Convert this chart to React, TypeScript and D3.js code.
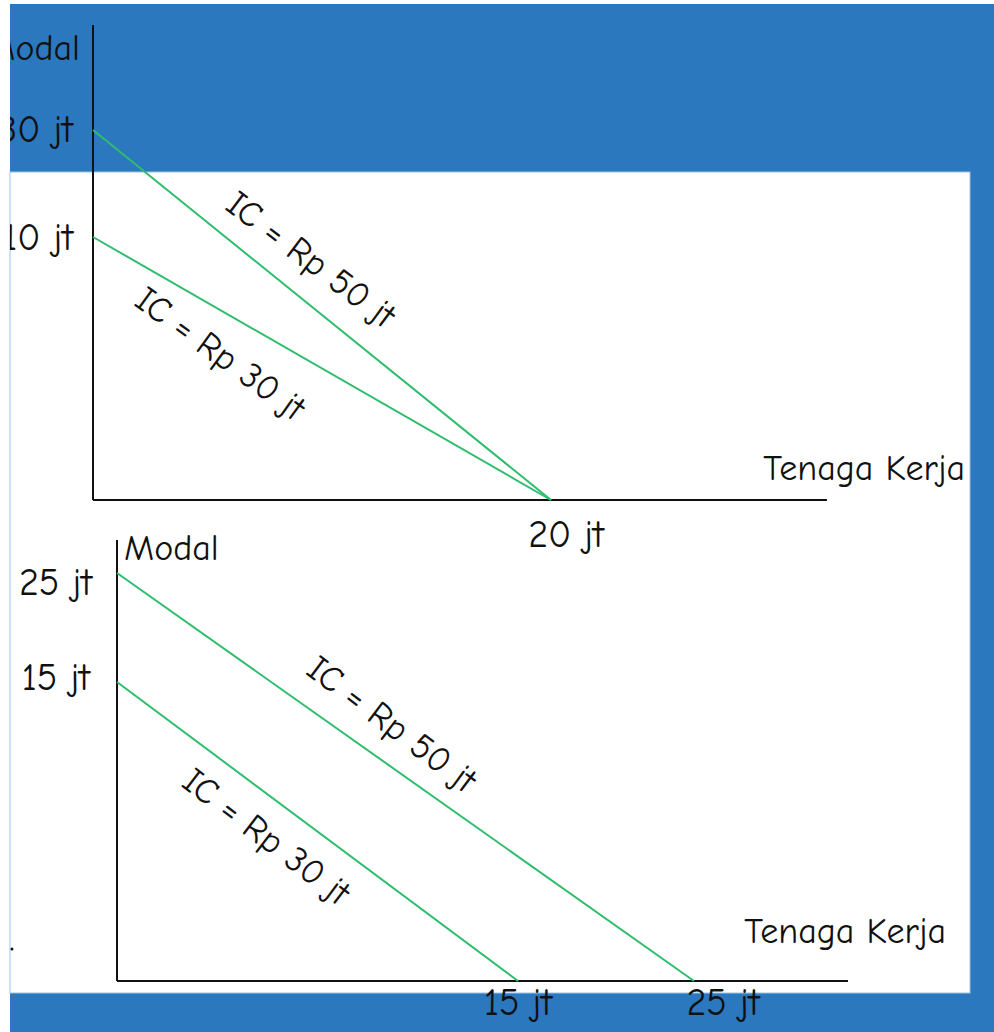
import React from 'react';
import * as d3 from 'd3';

// isocost lines, values in "jt" (juta rupiah)
const curveNames = ['IC = Rp 50 jt', 'IC = Rp 30 jt'];

// chart 1: both lines meet the labour axis at 20 jt
const topModal = [30, 10];
const topTenaga = [20, 20];
const topYTicks = ['30 jt', '10 jt'];
const topXTicks = ['20 jt'];

// chart 2: parallel lines
const bottomModal = [25, 15];
const bottomTenaga = [25, 15];
const bottomYTicks = ['25 jt', '15 jt'];
const bottomXTicks = ['15 jt', '25 jt'];

const FONT = '"Comic Sans MS", "Comic Neue", "DejaVu Sans", sans-serif';
const BLUE = '#2b78be';
const GREEN = '#2fbd6d';
const INK = '#111';

const parse = (s: string) => +s.replace(' jt', '');

type Layout = {
  x: d3.ScaleLinear<number, number>;
  y: d3.ScaleLinear<number, number>;
  modalLabel: { x: number; y: number; anchor: string };
  tenagaLabel: { x: number; y: number };
  yTickEnd: number[];
  yTickDy: number[];
  xTickDx: number[];
  xTickDy: number;
  labels: { t: number; off: number; rot: number }[];
};

const Chart = ({ modal, tenaga, yTicks, xTicks, lay, clip }: {
  modal: number[]; tenaga: number[]; yTicks: string[]; xTicks: string[]; lay: Layout; clip?: string;
}) => {
  const { x, y } = lay;
  const x0 = x(0), y0 = y(0);
  const xEnd = x.range()[x.range().length - 1];
  const yTop = y.range()[y.range().length - 1];
  const line = d3.line<[number, number]>().x(d => x(d[0])).y(d => y(d[1]));

  return (
    <g clipPath={clip} fontFamily={FONT} fontSize={36} fill={INK}>
      <line x1={x0} y1={yTop} x2={x0} y2={y0} stroke={INK} strokeWidth={2} />
      <line x1={x0} y1={y0} x2={xEnd} y2={y0} stroke={INK} strokeWidth={2} />
      {modal.map((m, i) => (
        <path key={'l' + i} d={line([[0, m], [tenaga[i], 0]]) || ''} stroke={GREEN} strokeWidth={2} fill="none" />
      ))}
      {modal.map((m, i) => {
        const ax = x(0), ay = y(m), bx = x(tenaga[i]), by = y(0);
        const len = Math.hypot(bx - ax, by - ay);
        const ux = (bx - ax) / len, uy = (by - ay) / len;
        const { t, off, rot } = lay.labels[i];
        const cx = ax + (bx - ax) * t + uy * off;
        const cy = ay + (by - ay) * t - ux * off;
        return (
          <text key={'c' + i} x={cx} y={cy} textAnchor="middle" dominantBaseline="central"
            transform={`rotate(${rot},${cx},${cy})`}>{curveNames[i]}</text>
        );
      })}
      {yTicks.map((s, i) => (
        <text key={'y' + i} x={lay.yTickEnd[i]} y={y(parse(s)) + lay.yTickDy[i]} textAnchor="end" fontSize={38}>{s}</text>
      ))}
      {xTicks.map((s, i) => (
        <text key={'x' + i} x={x(parse(s)) + lay.xTickDx[i]} y={y0 + lay.xTickDy} textAnchor="middle" fontSize={38}>{s}</text>
      ))}
      <text x={lay.modalLabel.x} y={lay.modalLabel.y} textAnchor={lay.modalLabel.anchor}>Modal</text>
      <text x={lay.tenagaLabel.x} y={lay.tenagaLabel.y} textAnchor="end">Tenaga Kerja</text>
    </g>
  );
};

export default function App() {
  React.useEffect(() => {
    document.body.style.margin = '0';
  }, []);

  // hand drawn sketch: axes are not evenly spaced, so piecewise scales
  const topLay: Layout = {
    x: d3.scaleLinear().domain([0, 20, 32]).range([93, 551, 827]),
    y: d3.scaleLinear().domain([0, 10, 30, 40]).range([500, 237, 130, 25]),
    modalLabel: { x: 80, y: 60, anchor: 'end' },
    tenagaLabel: { x: 965, y: 480 },
    yTickEnd: [73, 73],
    yTickDy: [12, 13],
    xTickDx: [15],
    xTickDy: 47,
    labels: [{ t: 0.426, off: 36, rot: 37 }, { t: 0.319, off: -38, rot: 36 }],
  };
  const bottomLay: Layout = {
    x: d3.scaleLinear().domain([0, 15, 25, 29]).range([117, 518, 694, 848]),
    y: d3.scaleLinear().domain([0, 15, 25, 28]).range([981, 682, 573, 540]),
    modalLabel: { x: 124, y: 560, anchor: 'start' },
    tenagaLabel: { x: 946, y: 943 },
    yTickEnd: [92, 90],
    yTickDy: [22, 8],
    xTickDx: [0, 29],
    xTickDy: 34,
    labels: [{ t: 0.441, off: 35, rot: 37 }, { t: 0.424, off: -35, rot: 37.4 }],
  };

  return (
    <svg width={994} height={1032} style={{ display: 'block' }}>
      <defs>
        <clipPath id="cut">
          <rect x={10} y={0} width={984} height={1032} />
        </clipPath>
      </defs>
      <rect width={994} height={1032} fill="#fff" />
      <rect x={10} y={4} width={984} height={1028} fill={BLUE} />
      <rect x={10} y={172} width={960} height={821} fill="#fff" stroke="#9cc3e6" strokeWidth={1} />
      <circle cx={12} cy={949} r={1.5} fill={INK} />
      <Chart modal={topModal} tenaga={topTenaga} yTicks={topYTicks} xTicks={topXTicks} lay={topLay} clip="url(#cut)" />
      <Chart modal={bottomModal} tenaga={bottomTenaga} yTicks={bottomYTicks} xTicks={bottomXTicks} lay={bottomLay} />
    </svg>
  );
}
